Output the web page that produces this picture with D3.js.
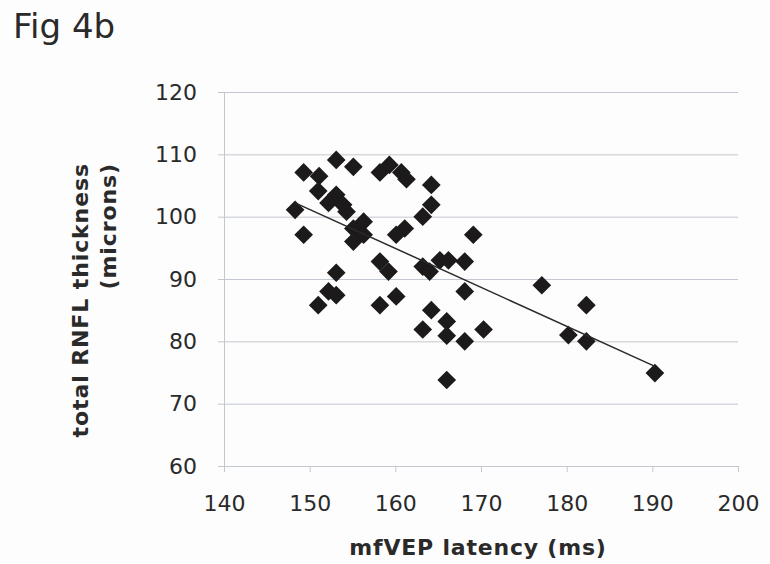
<!DOCTYPE html>
<html>
<head>
<meta charset="utf-8">
<script src="https://cdn.jsdelivr.net/npm/d3@7"></script>
<style>
  body { margin: 0; background: #fdfdfd; }
  svg { display: block; }
</style>
</head>
<body>
<div id="myChart"></div>
<script>
// data
let latency = [153.1, 155.1, 149.3, 151.1, 158.2, 159.3, 160.7, 161.3, 164.2, 151.0,
               153.1, 152.2, 153.9, 154.3, 148.3, 164.2, 163.2, 156.3, 155.1, 156.3,
               155.1, 149.3, 161.1, 160.1, 169.1, 158.2, 159.2, 163.2, 164.0, 165.2,
               166.2, 168.1, 153.1, 152.2, 153.1, 151.0, 158.2, 160.1, 168.1, 164.2,
               163.2, 166.0, 166.0, 168.1, 170.3, 166.0, 177.1, 182.3, 180.2, 182.3,
               190.3];
let thickness = [109.1, 108.0, 107.1, 106.5, 107.1, 108.3, 107.1, 106.0, 105.1, 104.1,
                 103.5, 102.2, 101.9, 100.8, 101.1, 101.9, 100.0, 99.2, 98.1, 97.1,
                 96.0, 97.1, 98.1, 97.1, 97.1, 92.8, 91.2, 92.0, 91.2, 93.0,
                 93.0, 92.8, 91.0, 88.0, 87.4, 85.8, 85.8, 87.2, 88.0, 85.0,
                 81.9, 83.2, 80.9, 80.0, 81.9, 73.8, 89.0, 85.8, 81.0, 80.0,
                 74.9];
let xTicks = [140, 150, 160, 170, 180, 190, 200];
let yTicks = [60, 70, 80, 90, 100, 110, 120];

let data = latency.map((d, i) => ({x: d, y: thickness[i]}));

// set the dimensions and margins of the graph
let margin = {top: 92, right: 32, bottom: 98, left: 224},
    width = 770 - margin.left - margin.right,
    height = 564 - margin.top - margin.bottom;

let root = d3.select("#myChart")
    .append("svg")
        .attr("width", 770)
        .attr("height", 564);

let svg = root.append("g")
        .attr("transform", "translate(" + margin.left + "," + margin.top + ")");

let gridColor = "#c3c7cf";
let textColor = "#2a2a2a";

let x = d3.scaleLinear()
    .domain([140, 200])
    .range([0, width]);

let y = d3.scaleLinear()
    .domain([60, 120])
    .range([height, 0]);

// horizontal gridlines
svg.append("g")
    .call(d3.axisLeft(y).tickValues(yTicks).tickSize(-width).tickFormat(""))
    .call(g => g.select(".domain").remove())
    .call(g => g.selectAll("line").attr("stroke", gridColor));

// Y axis
svg.append("g")
    .call(d3.axisLeft(y).tickValues(yTicks).tickSize(6).tickSizeOuter(0).tickPadding(21))
    .call(g => g.select(".domain").attr("stroke", gridColor))
    .call(g => g.selectAll("line").attr("stroke", gridColor))
    .call(g => g.selectAll("text")
        .attr("fill", textColor)
        .style("font-family", "DejaVu Sans")
        .style("font-size", "22px"));

// X axis
svg.append("g")
    .attr("transform", "translate(0," + height + ")")
    .call(d3.axisBottom(x).tickValues(xTicks).tickSize(6).tickSizeOuter(0).tickPadding(23))
    .call(g => g.select(".domain").attr("stroke", gridColor))
    .call(g => g.selectAll("line").attr("stroke", gridColor))
    .call(g => g.selectAll("text")
        .attr("fill", textColor)
        .style("font-family", "DejaVu Sans")
        .style("font-size", "22px"));

// linear trend line
let mx = d3.mean(latency), my = d3.mean(thickness);
let slope = d3.sum(data, d => (d.x - mx) * (d.y - my)) / d3.sum(data, d => (d.x - mx) * (d.x - mx));
let icpt = my - slope * mx;
let xr = d3.extent(latency);

// Add dots
svg.append("g")
    .selectAll("path")
    .data(data)
    .enter()
    .append("path")
        .attr("d", d3.symbol().type(d3.symbolSquare).size(175))
        .attr("transform", d => "translate(" + x(d.x) + "," + y(d.y) + ") rotate(45)")
        .style("fill", "#1c1a1a");

svg.append("line")
    .attr("x1", x(xr[0])).attr("y1", y(icpt + slope * xr[0]))
    .attr("x2", x(xr[1])).attr("y2", y(icpt + slope * xr[1]))
    .attr("stroke", textColor)
    .attr("stroke-width", 1.5);

// titles
root.append("text")
    .attr("x", 13).attr("y", 38)
    .attr("fill", textColor)
    .style("font-family", "DejaVu Sans")
    .style("font-size", "34px")
    .text("Fig 4b");

root.append("text")
    .attr("x", margin.left + width / 2 - 3).attr("y", 555)
    .attr("text-anchor", "middle")
    .attr("fill", textColor)
    .style("font-family", "DejaVu Sans")
    .style("font-weight", "bold")
    .style("font-size", "22px")
    .style("letter-spacing", "0.8px")
    .text("mfVEP latency (ms)");

let yTitle = ["total RNFL thickness", "(microns)"];
root.append("g")
    .attr("transform", "translate(88,163) rotate(-90)")
    .selectAll("text")
    .data(yTitle)
    .enter()
    .append("text")
        .attr("x", 0)
        .attr("y", (d, i) => i * 28)
        .attr("text-anchor", "end")
        .attr("fill", textColor)
        .style("font-family", "DejaVu Sans")
        .style("font-weight", "bold")
        .style("font-size", "22px")
        .style("letter-spacing", "0.9px")
        .text(d => d);
</script>
</body>
</html>
